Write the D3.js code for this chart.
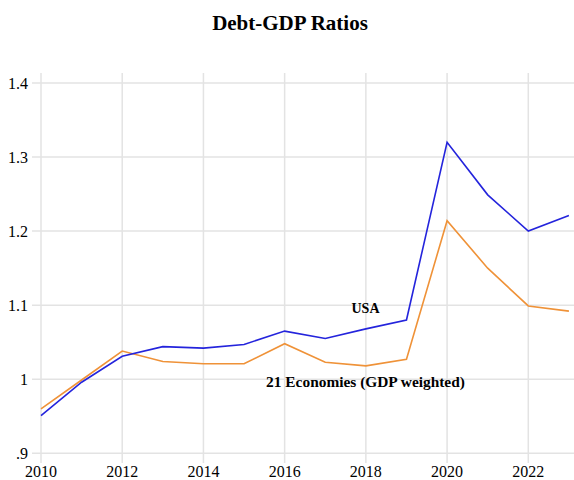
<!DOCTYPE html>
<html>
<head>
<meta charset="utf-8">
<script src="https://cdn.jsdelivr.net/npm/d3@7"></script>
<style>
  body { margin: 0; background: #fff; }
  svg { display: block; }
</style>
</head>
<body>
<svg id="chart" width="574" height="480"></svg>
<script>
const years = [2010, 2011, 2012, 2013, 2014, 2015, 2016, 2017, 2018, 2019, 2020, 2021, 2022, 2023];
const usa = [0.951, 0.996, 1.031, 1.044, 1.042, 1.047, 1.065, 1.055, 1.068, 1.080, 1.320, 1.249, 1.200, 1.221];
const economies21 = [0.960, 0.999, 1.038, 1.024, 1.021, 1.021, 1.048, 1.023, 1.018, 1.027, 1.214, 1.150, 1.099, 1.092];
const yTicks = [0.9, 1.0, 1.1, 1.2, 1.3, 1.4];
const yTickLabels = [".9", "1", "1.1", "1.2", "1.3", "1.4"];
const xTicks = [2010, 2012, 2014, 2016, 2018, 2020, 2022];

const svg = d3.select('#chart');
const font = '"Liberation Serif", "Times New Roman", serif';

const x = d3.scaleLinear().domain([2010, 2022]).range([41, 528.3]);
const y = d3.scaleLinear().domain([0.9, 1.4]).range([453.3, 83]);

// title
svg.append('text')
  .attr('x', 290)
  .attr('y', 30)
  .attr('text-anchor', 'middle')
  .style('font-family', font)
  .style('font-weight', 'bold')
  .style('font-size', '21px')
  .text('Debt-GDP Ratios');

// grid
const gridG = svg.append('g');
gridG.selectAll('line.h')
  .data(yTicks)
  .enter()
  .append('line')
    .attr('class', 'h')
    .attr('x1', 32)
    .attr('x2', 574)
    .attr('y1', d => y(d))
    .attr('y2', d => y(d))
    .style('stroke', '#e3e3e3')
    .style('stroke-width', 1.5);

gridG.selectAll('line.v')
  .data(xTicks)
  .enter()
  .append('line')
    .attr('class', 'v')
    .attr('x1', d => x(d))
    .attr('x2', d => x(d))
    .attr('y1', 73)
    .attr('y2', 463)
    .style('stroke', '#e3e3e3')
    .style('stroke-width', 1.5);

// tick labels
svg.append('g').selectAll('text')
  .data(yTicks)
  .enter()
  .append('text')
    .attr('x', 28)
    .attr('y', d => y(d))
    .attr('dy', '0.38em')
    .attr('text-anchor', 'end')
    .style('font-family', font)
    .style('font-size', '16px')
    .text((d, i) => yTickLabels[i]);

svg.append('g').selectAll('text')
  .data(xTicks)
  .enter()
  .append('text')
    .attr('x', d => x(d))
    .attr('y', 477)
    .attr('text-anchor', 'middle')
    .style('font-family', font)
    .style('font-size', '16px')
    .text(d => d);

// lines
const line = d3.line()
  .x((d, i) => x(years[i]))
  .y(d => y(d));

svg.append('path')
  .datum(economies21)
  .attr('d', line)
  .style('fill', 'none')
  .style('stroke', '#ef9238')
  .style('stroke-width', 1.6);

svg.append('path')
  .datum(usa)
  .attr('d', line)
  .style('fill', 'none')
  .style('stroke', '#2424dc')
  .style('stroke-width', 1.6);

// series labels
svg.append('text')
  .attr('x', 365.5)
  .attr('y', 313)
  .attr('text-anchor', 'middle')
  .style('font-family', font)
  .style('font-weight', 'bold')
  .style('font-size', '14px')
  .text('USA');

svg.append('text')
  .attr('x', 365.5)
  .attr('y', 387)
  .attr('text-anchor', 'middle')
  .style('font-family', font)
  .style('font-weight', 'bold')
  .style('font-size', '15.4px')
  .text('21 Economies (GDP weighted)');
</script>
</body>
</html>
